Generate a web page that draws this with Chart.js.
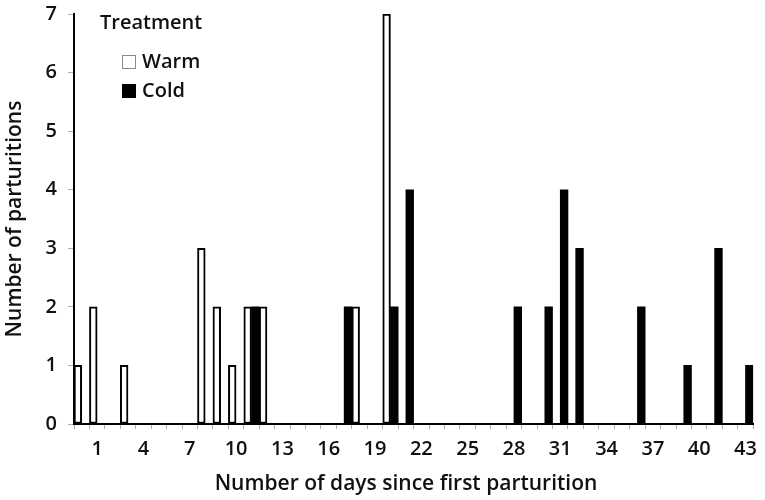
<!DOCTYPE html>
<html><head><meta charset="utf-8">
<script src="https://cdn.jsdelivr.net/npm/chart.js@4.4.1/dist/chart.umd.min.js"></script>
<style>html,body{margin:0;padding:0;background:#fff}#wrap{width:765px;height:500px}</style>
</head><body><div id="wrap"><canvas id="c" width="765" height="500"></canvas></div>
<script>
// Categories: days since first parturition
const days = ["0","1","2","3","4","5","6","7","8","9","10","11","12","13","14","15","16","17","18","19","20","21","22","23","24","25","26","27","28","29","30","31","32","33","34","35","36","37","38","39","40","41","42","43"];
// Labels shown on the x axis
const shownDayLabels = ["1","4","7","10","13","16","19","22","25","28","31","34","37","40","43"];
// Number of parturitions per day
const warm = [1,2,0,1,0,0,0,0,3,2, 1,2,2,0,0,0,0,0,2,0, 7,0,0,0,0,0,0,0,0,0, 0,0,0,0,0,0,0,0,0,0, 0,0,0,0];
const cold = [0,0,0,0,0,0,0,0,0,0, 0,2,0,0,0,0,0,2,0,0, 2,4,0,0,0,0,0,0,2,0, 2,4,3,0,0,0,2,0,0,1, 0,3,0,1];
const yTicks = [0,1,2,3,4,5,6,7];

const FONT = "'Open Sans', 'Liberation Sans', sans-serif";
const W = '600';
const TXT = '#111';

const legendPlugin = {
  id: 'customLegend',
  afterDraw(chart) {
    const ctx = chart.ctx;
    ctx.save();
    ctx.fillStyle = TXT;
    ctx.textBaseline = 'middle';
    ctx.textAlign = 'left';
    ctx.font = W + " 20px " + FONT;
    ctx.fillText('Treatment', 100, 23);
    // Warm
    ctx.fillStyle = '#fff';
    ctx.fillRect(122.5, 55.5, 13, 13);
    ctx.strokeStyle = '#8a8a8a';
    ctx.lineWidth = 1;
    ctx.strokeRect(122.5, 55.5, 13, 13);
    ctx.fillStyle = TXT;
    ctx.fillText('Warm', 142, 62);
    // Cold
    ctx.fillStyle = '#000';
    ctx.fillRect(122, 84, 14, 14);
    ctx.fillStyle = TXT;
    ctx.fillText('Cold', 142, 91);
    // x-axis title
    ctx.textAlign = 'center';
    ctx.font = W + " 21px " + FONT;
    ctx.fillText('Number of days since first parturition', 406, 484);
    ctx.restore();
  }
};

new Chart(document.getElementById('c'), {
  type: 'bar',
  data: {
    labels: days,
    datasets: [
      { label: 'Warm', data: warm, backgroundColor: '#ffffff', borderColor: '#000000', borderWidth: 2, borderSkipped: false, barPercentage: 1, categoryPercentage: 1 },
      { label: 'Cold', data: cold, backgroundColor: '#000000', borderColor: '#000000', borderWidth: 0, barPercentage: 1, categoryPercentage: 1 }
    ]
  },
  options: {
    responsive: false,
    animation: false,
    layout: { padding: { left: 0, right: 6, top: 14, bottom: 0 } },
    plugins: { legend: { display: false }, tooltip: { enabled: false } },
    scales: {
      x: {
        offset: true,
        grid: { offset: true, drawOnChartArea: false, drawTicks: true, tickLength: 5, color: '#b0b0b0' },
        border: { display: true, color: '#000', width: 2 },
        ticks: {
          autoSkip: false, maxRotation: 0, minRotation: 0, padding: 8,
          color: TXT, font: { family: FONT, size: 20, weight: W },
          callback: function(v, i) { const l = days[i]; return shownDayLabels.includes(l) ? l : ''; }
        },
        afterFit(scale) { scale.height = 76; }
      },
      y: {
        min: 0, max: 7,
        afterBuildTicks(scale) { scale.ticks = yTicks.map(v => ({ value: v })); },
        grid: { drawOnChartArea: false, drawTicks: true, tickLength: 6, color: '#b0b0b0' },
        border: { display: true, color: '#000', width: 2 },
        ticks: { padding: 11, color: TXT, font: { family: FONT, size: 20, weight: W } },
        title: { display: true, text: 'Number of parturitions', color: TXT, font: { family: FONT, size: 21, weight: W }, padding: { top: 2, bottom: 0 } },
        afterFit(scale) { scale.width = 74; scale.paddingTop = 0; scale.paddingBottom = 0; }
      }
    }
  },
  plugins: [legendPlugin]
});
</script>
</body></html>
